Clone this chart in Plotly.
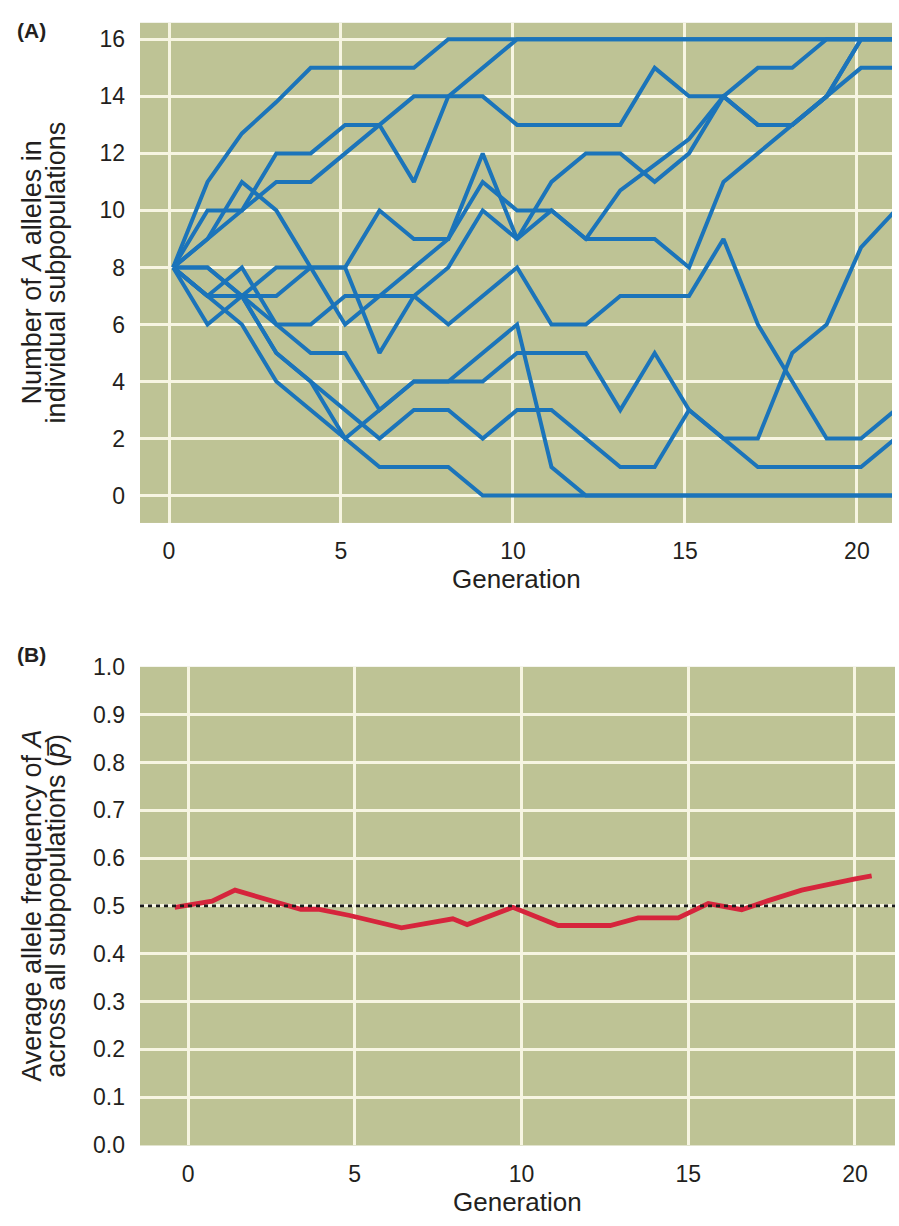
import plotly.graph_objects as go

# ---------------- data ----------------
GENERATIONS = list(range(22))

SUBPOP_01 = [8, 11, 12.7, 13.8, 15, 15, 15, 15, 16, 16, 16, 16, 16, 16, 16, 16, 16, 16, 16, 16, 16, 16]
SUBPOP_02 = [8, 10, 10, 12, 12, 13, 13, 11, 14, 15, 16, 16, 16, 16, 16, 16, 16, 16, 16, 16, 16, 16]
SUBPOP_03 = [8, 9, 10, 11, 11, 12, 13, 14, 14, 14, 13, 13, 13, 13, 15, 14, 14, 13, 13, 14, 16, 16]
SUBPOP_04 = [8, 8, 7, 7, 8, 8, 10, 9, 9, 12, 9, 11, 12, 12, 11, 12, 14, 15, 15, 16, 16, 16]
SUBPOP_05 = [8, 7, 8, 6, 6, 7, 7, 8, 9, 11, 10, 10, 9, 9, 9, 8, 11, 12, 13, 14, 15, 15]
SUBPOP_06 = [8, 9, 11, 10, 8, 8, 5, 7, 8, 10, 9, 10, 9, 10.7, 11.6, 12.5, 14, 13, 13, 14, 16, 16]
SUBPOP_07 = [8, 7, 7, 8, 8, 6, 7, 7, 6, 7, 8, 6, 6, 7, 7, 7, 9, 6, 4, 2, 2, 3]
SUBPOP_08 = [8, 8, 7, 6, 5, 5, 3, 4, 4, 4, 5, 5, 5, 3, 5, 3, 2, 1, 1, 1, 1, 2]
SUBPOP_09 = [8, 6, 7, 5, 4, 3, 2, 3, 3, 2, 3, 3, 2, 1, 1, 3, 2, 2, 5, 6, 8.7, 10]
SUBPOP_10 = [8, 7, 7, 5, 4, 2, 3, 4, 4, 5, 6, 1, 0, 0, 0, 0, 0, 0, 0, 0, 0, 0]
SUBPOP_11 = [8, 7, 6, 4, 3, 2, 1, 1, 1, 0, 0, 0, 0, 0, 0, 0, 0, 0, 0, 0, 0, 0]

SUBPOPS = [SUBPOP_01, SUBPOP_02, SUBPOP_03, SUBPOP_04, SUBPOP_05, SUBPOP_06,
           SUBPOP_07, SUBPOP_08, SUBPOP_09, SUBPOP_10, SUBPOP_11]

GEN_B = [-0.4, 0.72, 1.41, 2.95, 3.38, 3.9, 4.85, 6.4, 7.94, 8.37, 9.74, 11.1,
         12.66, 13.5, 14.7, 15.6, 16.6, 17.4, 18.4, 19.97, 20.5]
P_BAR = [0.497, 0.51, 0.533, 0.5, 0.493, 0.493, 0.48, 0.454, 0.473, 0.461, 0.497, 0.459,
         0.459, 0.475, 0.475, 0.505, 0.492, 0.511, 0.533, 0.556, 0.563]

NEUTRAL_P = 0.5

X_TICKS = [0, 5, 10, 15, 20]
Y_TICKS_A = [0, 2, 4, 6, 8, 10, 12, 14, 16]
Y_TICKS_B = [0.0, 0.1, 0.2, 0.3, 0.4, 0.5, 0.6, 0.7, 0.8, 0.9, 1.0]
Y_TICKTEXT_B = ["0.0", "0.1", "0.2", "0.3", "0.4", "0.5", "0.6", "0.7", "0.8", "0.9", "1.0"]

# ---------------- style ----------------
W, H = 899, 1226
BG = "#BEC395"
GRID = "#F7F5E2"
BLUE = "#1B74BA"
RED = "#D6253C"
FONT = "Liberation Sans, Arial, sans-serif"
TXT = "#231F20"
X_SHIFT = 0.12


def px_x(p):
    return p / W


def px_y(p):
    return 1 - p / H


fig = go.Figure()

for vals in SUBPOPS:
    fig.add_trace(go.Scatter(
        x=[g + X_SHIFT for g in GENERATIONS], y=vals, mode="lines",
        line=dict(color=BLUE, width=4), xaxis="x", yaxis="y",
        showlegend=False, hoverinfo="skip"))

fig.add_trace(go.Scatter(
    x=GEN_B, y=P_BAR, mode="lines",
    line=dict(color=RED, width=4.8), xaxis="x2", yaxis="y2",
    showlegend=False, hoverinfo="skip"))

fig.add_shape(type="line", xref="x2 domain", yref="y2",
              x0=0, x1=1, y0=NEUTRAL_P, y1=NEUTRAL_P,
              line=dict(color="#1A1A1A", width=2.6, dash="4px,4px"))

axis_common = dict(showgrid=True, gridcolor=GRID, gridwidth=2.6, zeroline=False,
                   showline=False, ticks="", tickfont=dict(family=FONT, size=23, color=TXT))

fig.update_layout(
    width=W, height=H,
    margin=dict(l=0, r=0, t=0, b=0),
    paper_bgcolor="white", plot_bgcolor=BG,
    xaxis=dict(domain=[px_x(140), px_x(892)], anchor="y", range=[-0.843, 21.02],
               tickvals=X_TICKS, ticklabelstandoff=12, **axis_common),
    yaxis=dict(domain=[px_y(521), px_y(10)], anchor="x", range=[-0.96, 16.58],
               tickvals=Y_TICKS_A, ticklabelstandoff=14, **axis_common),
    xaxis2=dict(domain=[px_x(140), px_x(895)], anchor="y2", range=[-1.44, 21.2],
                tickvals=X_TICKS, ticklabelstandoff=13, **axis_common),
    yaxis2=dict(domain=[px_y(1157), px_y(668)], anchor="x2", range=[-0.001, 1.0],
                tickvals=Y_TICKS_B, ticktext=Y_TICKTEXT_B, ticklabelstandoff=14, **axis_common),
)

ann_font = dict(family=FONT, size=27, color=TXT)
gen_font = dict(family=FONT, size=26, color=TXT)
annotations = [
    dict(text="<b>(A)</b>", x=px_x(31), y=px_y(18), xanchor="center", yanchor="middle",
         font=dict(family=FONT, size=21, color=TXT)),
    dict(text="<b>(B)</b>", x=px_x(31), y=px_y(655), xanchor="center", yanchor="middle",
         font=dict(family=FONT, size=21, color=TXT)),
    dict(text="Number of <i>A</i> alleles in", x=px_x(32), y=px_y(265), textangle=-90,
         xanchor="center", yanchor="middle", font=ann_font),
    dict(text="individual subpopulations", x=px_x(56), y=px_y(265), textangle=-90,
         xanchor="center", yanchor="middle", font=ann_font),
    dict(text="Average allele frequency of <i>A</i>", x=px_x(32), y=px_y(912), textangle=-90,
         xanchor="center", yanchor="middle", font=ann_font),
    dict(text="across all subpopulations (<i>p\u0305</i>)", x=px_x(56), y=px_y(912), textangle=-90,
         xanchor="center", yanchor="middle", font=ann_font),
    dict(text="Generation", x=px_x(516), y=px_y(578), xanchor="center", yanchor="middle",
         font=gen_font),
    dict(text="Generation", x=px_x(517), y=px_y(1232), xanchor="center", yanchor="bottom",
         font=gen_font),
]
for a in annotations:
    a.update(xref="paper", yref="paper", showarrow=False)
fig.update_layout(annotations=annotations)

fig.write_html("out.html")
